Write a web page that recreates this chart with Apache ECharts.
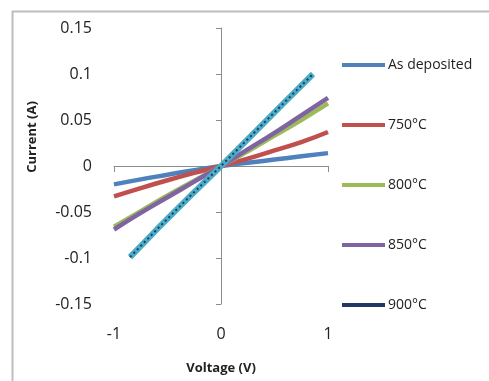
<!DOCTYPE html>
<html>
<head>
<meta charset="utf-8">
<script src="https://cdn.jsdelivr.net/npm/echarts@6/dist/echarts.min.js"></script>
<style>
  html, body { margin: 0; padding: 0; background: #fff; }
  #chart { width: 489px; height: 381px; }
</style>
</head>
<body>
<div id="chart"></div>
<script>
// voltage (V) sample points
var voltage = [-1, -0.75, -0.5, -0.25, 0, 0.25, 0.5, 0.75, 1]
var voltage900 = [-0.85, -0.6, -0.3, 0, 0.3, 0.6, 0.86]

// current (A) per anneal
var asDeposited = [-0.020, -0.0145, -0.0095, -0.0045, 0, 0.0035, 0.007, 0.0105, 0.014]
var c750 = [-0.033, -0.024, -0.0155, -0.0075, 0, 0.008, 0.017, 0.026, 0.037]
var c800 = [-0.066, -0.049, -0.032, -0.016, 0, 0.016, 0.033, 0.050, 0.068]
var c850 = [-0.069, -0.051, -0.034, -0.017, 0, 0.018, 0.036, 0.055, 0.074]
var c900 = [-0.099, -0.069, -0.034, 0, 0.035, 0.07, 0.1]

var seriesNames = ['As deposited', '750°C', '800°C', '850°C', '900°C']
var xTicks = [-1, 0, 1]

function pairs(xs, ys) {
  return xs.map(function (x, i) { return [x, ys[i]] })
}

var fontColor = '#222'
var axisColor = '#8c8c8c'
var font = '"Open Sans", sans-serif'

var myChart = echarts.init(document.getElementById('chart'))

var lineSeries = function (name, color, data) {
  return {
    name: name,
    type: 'line',
    symbol: 'none',
    smooth: true,
    lineStyle: { color: color, width: 4.5 },
    itemStyle: { color: color },
    data: data
  }
}

var option = {
  animation: false,
  textStyle: { fontFamily: font },
  grid: { left: 114, right: 161, top: 28, bottom: 77 },
  graphic: [
    // chart frame (top + left edges only)
    { type: 'line', shape: { x1: 12.5, y1: 11, x2: 12.5, y2: 381 }, style: { stroke: '#bdbdbd', lineWidth: 2 } },
    { type: 'line', shape: { x1: 12, y1: 11.5, x2: 489, y2: 11.5 }, style: { stroke: '#bdbdbd', lineWidth: 2 } },
    {
      type: 'text', x: 32, y: 137, rotation: Math.PI / 2,
      style: { text: 'Current (A)', font: 'bold 13px ' + font, fill: fontColor, align: 'center', verticalAlign: 'middle' }
    }
  ],
  legend: {
    orient: 'vertical',
    left: 342,
    top: 58,
    padding: 0,
    icon: 'rect',
    itemWidth: 43,
    itemHeight: 4,
    itemGap: 46,
    textStyle: { fontSize: 14, color: fontColor, fontFamily: font, padding: [0, 0, 0, -2] },
    data: seriesNames
  },
  xAxis: [{
    // labels + title at the bottom
    type: 'value', min: -1, max: 1, interval: 1,
    axisLine: { show: false, onZero: false },
    axisTick: { show: false },
    splitLine: { show: false },
    axisLabel: { margin: 22, fontSize: 16, color: fontColor, customValues: xTicks },
    name: 'Voltage (V)',
    nameLocation: 'middle',
    nameGap: 58,
    nameTextStyle: { fontSize: 13, fontWeight: 'bold', color: fontColor }
  }, {
    // axis line crossing at zero
    type: 'value', min: -1, max: 1, interval: 1, position: 'bottom',
    axisLine: { show: true, onZero: true, lineStyle: { color: axisColor, width: 1 } },
    axisTick: { show: true, length: 6, lineStyle: { color: axisColor } },
    axisLabel: { show: false },
    splitLine: { show: false }
  }],
  yAxis: [{
    type: 'value', min: -0.15, max: 0.15, interval: 0.05,
    axisLine: { show: false, onZero: false },
    axisTick: { show: false },
    splitLine: { show: false },
    axisLabel: { margin: 22, fontSize: 16, color: fontColor }
  }, {
    type: 'value', min: -0.15, max: 0.15, interval: 0.05, position: 'left',
    axisLine: { show: true, onZero: true, lineStyle: { color: axisColor, width: 1 } },
    axisTick: { show: true, length: 5, lineStyle: { color: axisColor } },
    axisLabel: { show: false },
    splitLine: { show: false }
  }],
  series: [
    lineSeries(seriesNames[0], '#4f81bd', pairs(voltage, asDeposited)),
    lineSeries(seriesNames[1], '#c0504d', pairs(voltage, c750)),
    lineSeries(seriesNames[2], '#9bbb59', pairs(voltage, c800)),
    lineSeries(seriesNames[3], '#8064a2', pairs(voltage, c850)),
    // 900: wide cyan band under a navy dashed line
    {
      name: '900 band', type: 'line', symbol: 'none',
      lineStyle: { color: '#4bacc6', width: 6 },
      data: pairs(voltage900, c900)
    },
    {
      name: seriesNames[4], type: 'line', symbol: 'none',
      lineStyle: { color: '#1f3864', width: 2, type: [2, 3] },
      itemStyle: { color: '#1f3864' },
      data: pairs(voltage900, c900)
    }
  ]
}

myChart.setOption(option, true)
</script>
</body>
</html>
